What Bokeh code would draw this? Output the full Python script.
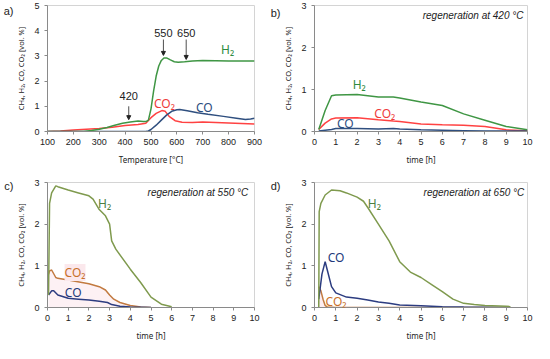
from bokeh.plotting import figure
from bokeh.layouts import gridplot
from bokeh.models import Label, Arrow, NormalHead, Range1d, FixedTicker, LinearAxis
from bokeh.embed import file_html
from bokeh.resources import INLINE

# ---------------- data ----------------
# panel a: temperature programmed
temp_h2 = [100, 240, 270, 300, 330, 360, 390, 420, 450, 470, 482, 490, 500, 510, 520, 530, 540, 550, 560, 575, 590, 605, 630, 660, 700, 800, 900]
h2_a    = [0, 0, 0.04, 0.09, 0.16, 0.25, 0.33, 0.38, 0.42, 0.40, 0.40, 0.45, 0.9, 1.6, 2.2, 2.6, 2.82, 2.92, 2.92, 2.84, 2.77, 2.75, 2.77, 2.8, 2.82, 2.8, 2.8]
temp_co2 = [100, 150, 200, 250, 300, 350, 400, 450, 480, 500, 520, 542, 555, 570, 593, 620, 660, 700, 750, 800, 900]
co2_a    = [0, 0.02, 0.06, 0.09, 0.12, 0.17, 0.24, 0.28, 0.33, 0.55, 0.72, 0.83, 0.8, 0.6, 0.43, 0.37, 0.36, 0.38, 0.36, 0.34, 0.3]
temp_co = [100, 480, 490, 500, 520, 540, 560, 580, 600, 611, 640, 680, 720, 780, 830, 865, 885, 900]
co_a    = [0, 0, 0.02, 0.08, 0.25, 0.45, 0.65, 0.8, 0.86, 0.87, 0.82, 0.74, 0.68, 0.6, 0.53, 0.48, 0.5, 0.53]

# panel b: regeneration at 420 °C
t_b   = [0.2, 0.5, 0.8, 1.0, 2.0, 3.0, 3.7, 4.0, 5.0, 6.0, 7.0, 8.0, 9.0, 10.0]
h2_b  = [0.05, 0.5, 0.85, 0.87, 0.88, 0.82, 0.82, 0.8, 0.7, 0.62, 0.42, 0.27, 0.12, 0.04]
co2_b = [0.05, 0.2, 0.3, 0.32, 0.33, 0.28, 0.25, 0.24, 0.18, 0.16, 0.15, 0.12, 0.04, 0.02]
co_b  = [0.01, 0.03, 0.05, 0.07, 0.07, 0.06, 0.07, 0.06, 0.04, 0.03, 0.02, 0.01, 0.01, 0.01]

# panel c: regeneration at 550 °C
t_h2_c = [0.05, 0.1, 0.2, 0.4, 0.5, 1.0, 1.5, 2.0, 2.2, 2.5, 2.8, 3.0, 3.1, 3.3, 4.0, 4.5, 5.0, 5.5, 6.0]
h2_c   = [0.3, 2.5, 2.75, 2.92, 2.9, 2.82, 2.75, 2.68, 2.6, 2.35, 2.2, 2.0, 1.6, 1.4, 0.92, 0.6, 0.25, 0.08, 0.02]
t_co2_c = [0.05, 0.1, 0.2, 0.4, 0.5, 1.0, 2.0, 2.5, 2.8, 3.0, 3.2, 3.5, 4.0, 4.5, 5.0]
co2_c   = [0.8, 0.88, 0.9, 0.72, 0.7, 0.66, 0.57, 0.5, 0.42, 0.3, 0.2, 0.12, 0.05, 0.01, 0.0]
t_co_c = [0.05, 0.2, 0.3, 0.5, 1.0, 1.5, 2.0, 2.5, 2.9, 3.1, 3.5, 4.0, 5.0]
co_c   = [0.3, 0.4, 0.4, 0.3, 0.22, 0.2, 0.18, 0.15, 0.12, 0.07, 0.03, 0.01, 0.0]

# panel d: regeneration at 650 °C
t_h2_d = [0.2, 0.22, 0.3, 0.5, 0.8, 1.2, 1.5, 2.0, 2.3, 2.5, 3.0, 3.5, 4.0, 4.5, 5.0, 5.5, 6.0, 6.5, 7.0, 7.5, 8.0, 9.0, 9.2]
h2_d   = [0.0, 2.3, 2.5, 2.7, 2.82, 2.8, 2.75, 2.65, 2.55, 2.4, 2.0, 1.6, 1.1, 0.85, 0.72, 0.55, 0.38, 0.2, 0.1, 0.07, 0.05, 0.03, 0.02]
t_co_d = [0.2, 0.35, 0.5, 0.6, 0.8, 1.0, 1.5, 2.0, 2.5, 3.0, 3.5, 4.0, 5.0, 6.0, 7.0, 9.0]
co_d   = [0.2, 0.8, 1.1, 0.9, 0.5, 0.35, 0.25, 0.22, 0.18, 0.13, 0.1, 0.06, 0.04, 0.02, 0.01, 0.0]
t_co2_d = [0.2, 0.3, 0.4, 0.5, 0.6, 1.0, 9.0]
co2_d   = [0.5, 0.4, 0.2, 0.05, 0.01, 0.0, 0.0]

x_ticks_a = [100, 200, 300, 400, 500, 600, 700, 800, 900]
x_ticks_t = [0, 1, 2, 3, 4, 5, 6, 7, 8, 9, 10]
panel_tags = ["a)", "b)", "c)", "d)"]

Y_LABEL = "CH\u2084, H\u2082, CO, CO\u2082 [vol. %]"

GREEN1, RED1, BLUE1 = "#3f9644", "#ff4242", "#2f4f7f"
GREEN2, ORANGE2, BLUE2 = "#7f9a4e", "#c27a40", "#2c3c80"
TXT_GREEN1, TXT_RED1, TXT_BLUE1 = "#2e8b3e", "#ee3a3a", "#2b4c7e"
TXT_GREEN2, TXT_ORANGE2, TXT_BLUE2 = "#4d8040", "#c8702a", "#22397a"
PINK = "#fbe8ec"


def make_fig(w, h, bl, br, bt, bb, xr, yr, xticks, yticks, xlabel):
    p = figure(width=w, height=h, min_border_left=bl, min_border_right=br,
               min_border_top=bt, min_border_bottom=bb,
               x_range=Range1d(*xr), y_range=Range1d(*yr),
               output_backend="svg", toolbar_location=None)
    p.xgrid.visible = False
    p.ygrid.visible = False
    p.outline_line_color = "#d4d4d4"
    p.background_fill_color = "white"
    p.border_fill_color = "white"
    for ax in (p.xaxis[0], p.yaxis[0]):
        ax.axis_line_color = "#8a8a8a"
        ax.major_tick_line_color = "#8a8a8a"
        ax.minor_tick_line_color = None
        ax.major_tick_in = 0
        ax.major_tick_out = 3
        ax.major_label_text_font = "Liberation Sans"
        ax.major_label_text_font_size = "9px"
        ax.major_label_text_color = "#222222"
        ax.axis_label_text_font = "Noto Sans"
        ax.axis_label_text_font_style = "normal"
        ax.axis_label_text_color = "#222222"
    p.xaxis.ticker = FixedTicker(ticks=xticks)
    p.yaxis.ticker = FixedTicker(ticks=yticks)
    p.xaxis.axis_label = xlabel
    p.xaxis.axis_label_text_font_size = "8px"
    p.xaxis.axis_label_standoff = 6
    p.yaxis.axis_label = Y_LABEL
    p.yaxis.axis_label_text_font_size = "7.5px"
    p.yaxis.axis_label_standoff = 5
    p.xaxis.major_label_standoff = 4
    p.yaxis.major_label_standoff = 5
    return p


def lbl(p, x, y, text, color, size="12px", font="Noto Sans", align="center", style="normal", bg=None):
    p.add_layout(Label(x=x, y=y, text=text, text_color=color, text_font=font,
                       text_font_size=size, text_align=align, text_baseline="middle",
                       text_font_style=style, background_fill_color=bg))


def tag(p, pos, text):
    # panel tag drawn as the single label of an outer, line-less axis
    p.extra_y_ranges = {"tag": Range1d(0, 100)}
    ax = LinearAxis(y_range_name="tag", ticker=FixedTicker(ticks=[pos]),
                    major_label_overrides={pos: text},
                    axis_line_color=None, major_tick_line_color=None,
                    minor_tick_line_color=None, major_tick_out=0, major_tick_in=0,
                    major_label_standoff=0, major_label_text_font="Liberation Sans",
                    major_label_text_font_size="11px", major_label_text_color="#222222")
    p.add_layout(ax, "left")


def arrow(p, x, y0, y1):
    p.add_layout(Arrow(end=NormalHead(size=4, fill_color="#222222", line_color="#222222"),
                       x_start=x, y_start=y0, x_end=x, y_end=y1,
                       line_color="#222222", line_width=0.8))


# ---------- panel a ----------
pa = make_fig(267, 170, 38, 13, 5, 39, (100, 900), (0, 5), x_ticks_a, [0, 1, 2, 3, 4, 5], "Temperature [\u00b0C]")
pa.line(temp_co2, co2_a, color=RED1, line_width=1.5)
pa.line(temp_co, co_a, color=BLUE1, line_width=1.5)
pa.line(temp_h2, h2_a, color=GREEN1, line_width=1.5)
lbl(pa, 796, 3.27, "H\u2082", TXT_GREEN1)
lbl(pa, 552, 1.13, "CO\u2082", TXT_RED1)
lbl(pa, 706, 0.97, "CO", TXT_BLUE1)
lbl(pa, 414, 1.39, "420", "#222222", size="11px", font="Liberation Sans")
lbl(pa, 548, 3.89, "550", "#222222", size="11px", font="Liberation Sans")
lbl(pa, 636, 3.89, "650", "#222222", size="11px", font="Liberation Sans")
arrow(pa, 414, 1.0, 0.47)
arrow(pa, 548, 3.65, 3.02)
arrow(pa, 636, 3.65, 2.86)
tag(pa, 96, panel_tags[0])

# ---------- panel b ----------
pb = make_fig(267, 170, 41, 7, 5, 39, (0, 10), (0, 3), x_ticks_t, [0, 1, 2, 3], "time [h]")
pb.line(t_b, co2_b, color=RED1, line_width=1.5)
pb.line(t_b, co_b, color=BLUE1, line_width=1.5)
pb.line(t_b, h2_b, color=GREEN1, line_width=1.5)
lbl(pb, 2.1, 1.11, "H\u2082", TXT_GREEN1)
lbl(pb, 3.3, 0.43, "CO\u2082", TXT_RED1)
lbl(pb, 1.45, 0.18, "CO", TXT_BLUE1)
lbl(pb, 9.81, 2.77, "regeneration at 420 \u00b0C", "#222222", size="10px",
    font="Liberation Sans", align="right", style="italic")
tag(pb, 94, panel_tags[1])

# ---------- panel c ----------
pc = make_fig(267, 173, 38, 13, 12, 34, (0, 10), (0, 3), x_ticks_t, [0, 1, 2, 3], "time [h]")
pc.varea(x=t_co2_c, y1=0, y2=co2_c, fill_color=PINK, fill_alpha=0.6)
pc.line(t_co2_c, co2_c, color=ORANGE2, line_width=1.5)
pc.line(t_co_c, co_c, color=BLUE2, line_width=1.5)
pc.line(t_h2_c, h2_c, color=GREEN2, line_width=1.5)
lbl(pc, 2.76, 2.5, "H\u2082", TXT_GREEN2)
lbl(pc, 1.33, 0.84, "CO\u2082", TXT_ORANGE2, bg=PINK)
lbl(pc, 1.24, 0.35, "CO", TXT_BLUE2)
lbl(pc, 9.7, 2.77, "regeneration at 550 \u00b0C", "#222222", size="10px",
    font="Liberation Sans", align="right", style="italic")
tag(pc, 97, panel_tags[2])

# ---------- panel d ----------
pd_ = make_fig(267, 173, 41, 7, 12, 34, (0, 10), (0, 3), x_ticks_t, [0, 1, 2, 3], "time [h]")
pd_.varea(x=t_co2_d, y1=0, y2=co2_d, fill_color=PINK, fill_alpha=0.8)
pd_.line(t_co2_d, co2_d, color=ORANGE2, line_width=1.5)
pd_.line(t_co_d, co_d, color=BLUE2, line_width=1.5)
pd_.line(t_h2_d, h2_d, color=GREEN2, line_width=1.5)
lbl(pd_, 2.81, 2.5, "H\u2082", TXT_GREEN2)
lbl(pd_, 1.01, 1.19, "CO", TXT_BLUE2)
lbl(pd_, 1.01, 0.15, "CO\u2082", TXT_ORANGE2)
lbl(pd_, 9.85, 2.77, "regeneration at 650 \u00b0C", "#222222", size="10px",
    font="Liberation Sans", align="right", style="italic")
tag(pd_, 97, panel_tags[3])

grid = gridplot([[pa, pb], [pc, pd_]], toolbar_location=None)

open("out.html", "w").write(file_html(grid, INLINE))
